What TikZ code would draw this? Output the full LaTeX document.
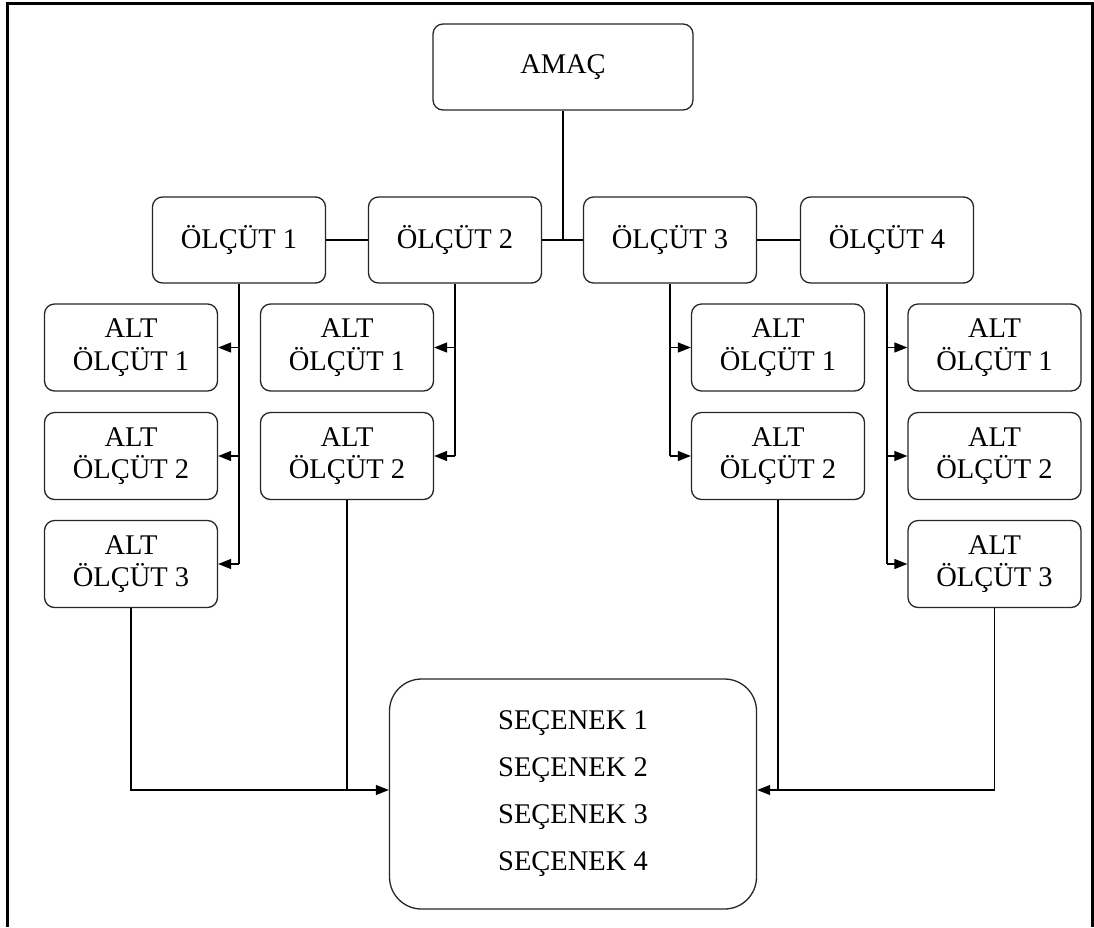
\documentclass[tikz,border=0pt]{standalone}
\usepackage{fontspec}
\setmainfont{Liberation Serif}
\usetikzlibrary{arrows.meta}
\begin{document}
\begin{tikzpicture}[x=1pt,y=-1pt,
  box/.style={draw=black!85, line width=1.3pt, rounded corners=10pt, fill=white,
    minimum width=173pt, minimum height=86pt, inner sep=0pt, align=center,
    font=\fontsize{28.5}{32.5}\selectfont},
  conn/.style={line width=1.3pt, draw=black},
  arr/.style={conn, -{Triangle[length=13pt,width=10pt]}}]
\useasboundingbox (0,0) rectangle (1094,927);
\fill[white] (0,0) rectangle (1094,927);
\draw[line width=3pt] (7,927) -- (7,3) -- (1092,3) -- (1092,927);

\node[box, minimum width=260pt] (A) at (563,67) {AMAÇ};
\node[box] (O1) at (239,240) {ÖLÇÜT 1};
\node[box] (O2) at (455,240) {ÖLÇÜT 2};
\node[box] (O3) at (670,240) {ÖLÇÜT 3};
\node[box] (O4) at (887,240) {ÖLÇÜT 4};

\node[box, minimum height=87pt] (A11) at (131,347.5) {ALT\\ÖLÇÜT 1};
\node[box, minimum height=87pt] (A12) at (131,456) {ALT\\ÖLÇÜT 2};
\node[box, minimum height=87pt] (A13) at (131,564) {ALT\\ÖLÇÜT 3};
\node[box, minimum height=87pt] (A21) at (347,347.5) {ALT\\ÖLÇÜT 1};
\node[box, minimum height=87pt] (A22) at (347,456) {ALT\\ÖLÇÜT 2};
\node[box, minimum height=87pt] (A31) at (778,347.5) {ALT\\ÖLÇÜT 1};
\node[box, minimum height=87pt] (A32) at (778,456) {ALT\\ÖLÇÜT 2};
\node[box, minimum height=87pt] (A41) at (994.5,347.5) {ALT\\ÖLÇÜT 1};
\node[box, minimum height=87pt] (A42) at (994.5,456) {ALT\\ÖLÇÜT 2};
\node[box, minimum height=87pt] (A43) at (994.5,564) {ALT\\ÖLÇÜT 3};

\node[box, rounded corners=32pt, minimum width=367pt, minimum height=230pt,
  font=\fontsize{28.5}{47}\selectfont] (S) at (573,794)
  {SEÇENEK 1\\SEÇENEK 2\\SEÇENEK 3\\SEÇENEK 4};
\coordinate (SW) at ([yshift=4pt]S.west);
\coordinate (SE) at ([yshift=4pt]S.east);

% top connectors
\draw[conn] (A.south) -- (A.south |- O2.east);
\draw[conn] (O1.east) -- (O2.west);
\draw[conn] (O2.east) -- (O3.west);
\draw[conn] (O3.east) -- (O4.west);

% criterion 1
\draw[conn] (O1.south) -- (O1.south |- A13.east);
\draw[arr] (O1.south |- A11.east) -- (A11.east);
\draw[arr] (O1.south |- A12.east) -- (A12.east);
\draw[arr] (O1.south |- A13.east) -- (A13.east);
% criterion 2
\draw[conn] (O2.south) -- (O2.south |- A22.east);
\draw[arr] (O2.south |- A21.east) -- (A21.east);
\draw[arr] (O2.south |- A22.east) -- (A22.east);
% criterion 3
\draw[conn] (O3.south) -- (O3.south |- A32.west);
\draw[arr] (O3.south |- A31.west) -- (A31.west);
\draw[arr] (O3.south |- A32.west) -- (A32.west);
% criterion 4
\draw[conn] (O4.south) -- (O4.south |- A43.west);
\draw[arr] (O4.south |- A41.west) -- (A41.west);
\draw[arr] (O4.south |- A42.west) -- (A42.west);
\draw[arr] (O4.south |- A43.west) -- (A43.west);

% to alternatives
\draw[arr] (A13.south) |- (SW);
\draw[conn] (A22.south) -- (A22.south |- SW);
\draw[arr] (A43.south) |- (SE);
\draw[conn] (A32.south) -- (A32.south |- SE);
\end{tikzpicture}
\end{document}
